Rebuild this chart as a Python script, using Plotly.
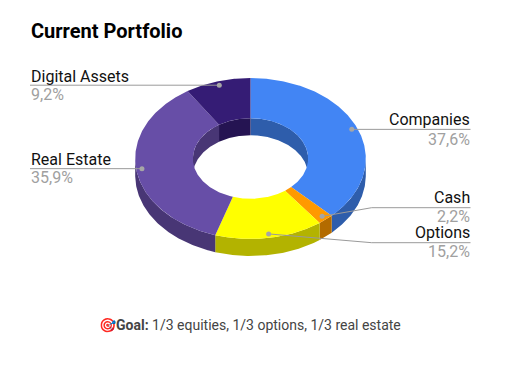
import math
import plotly.graph_objects as go

labels = ["Companies", "Cash", "Options", "Real Estate", "Digital Assets"]
values = [37.6, 2.2, 15.2, 35.9, 9.2]
face_colors = ["#4285F4", "#FF9900", "#FFFF00", "#674EA7", "#351C75"]
side_colors = ["#2E5DAB", "#B36B00", "#B3B300", "#483675", "#251452"]
title_text = "Current Portfolio"
goal_text = "🎯<b>Goal:</b> 1/3 equities, 1/3 options, 1/3 real estate"

W, H = 511, 370
CX, CY, RX, RY, DEPTH, HOLE = 250.5, 158.5, 115.3, 80.5, 17.0, 0.5
total = sum(values)


def pt(deg, f=1.0, dy=0.0):
    a = math.radians(deg)
    return CX + f * RX * math.sin(a), CY - f * RY * math.cos(a) + dy


def arc(a0, a1, f=1.0, dy=0.0):
    n = max(2, int(abs(a1 - a0) * 1.5))
    return [pt(a0 + (a1 - a0) * i / n, f, dy) for i in range(n + 1)]


def poly(points, color):
    xs = [p[0] for p in points] + [points[0][0]]
    ys = [p[1] for p in points] + [points[0][1]]
    return go.Scatter(x=xs, y=ys, mode="lines", fill="toself", fillcolor=color,
                      line=dict(width=0, color=color), hoverinfo="skip", showlegend=False)


spans = []
acc = 0.0
for v in values:
    spans.append((acc / total * 360, (acc + v) / total * 360))
    acc += v

fig = go.Figure()

# inner wall: the far half of the hole
for (a0, a1), col in zip(spans, side_colors):
    for lo, hi in ((a0, min(a1, 90)), (max(a0, 270), a1)):
        if hi > lo:
            fig.add_trace(poly(arc(lo, hi, HOLE) + arc(hi, lo, HOLE, DEPTH), col))

# outer wall: the near half of the ring
for (a0, a1), col in zip(spans, side_colors):
    lo, hi = max(a0, 90), min(a1, 270)
    if hi > lo:
        fig.add_trace(poly(arc(lo, hi) + arc(hi, lo, 1.0, DEPTH), col))

# top face
for (a0, a1), col in zip(spans, face_colors):
    fig.add_trace(poly(arc(a0, a1) + arc(a1, a0, HOLE), col))

# leader lines + dots + labels
LINE = "#9a9a9a"
label_layout = {
    "Companies": dict(side="r", knee=None, name_y=119, pct_y=139),
    "Cash": dict(side="r", knee=(371.7, 207.7), name_y=197, pct_y=216),
    "Options": dict(side="r", knee=(371.7, 242.7), name_y=232, pct_y=251),
    "Real Estate": dict(side="l", knee=None, name_y=159, pct_y=177),
    "Digital Assets": dict(side="l", knee=None, name_y=76, pct_y=94),
}
annotations = []
for name, v, (a0, a1) in zip(labels, values, spans):
    L = label_layout[name]
    x0, y0 = pt((a0 + a1) / 2, 0.95)
    end_x = 470.5 if L["side"] == "r" else 30
    if L["knee"]:
        xs, ys = [x0, L["knee"][0], end_x], [y0, L["knee"][1], L["knee"][1]]
    else:
        xs, ys = [x0, end_x], [y0, y0]
    fig.add_trace(go.Scatter(x=xs, y=ys, mode="lines", line=dict(color=LINE, width=1),
                             hoverinfo="skip", showlegend=False))
    fig.add_trace(go.Scatter(x=[x0], y=[y0], mode="markers",
                             marker=dict(color="#a6a6a6", size=5), hoverinfo="skip", showlegend=False))
    anchor = "right" if L["side"] == "r" else "left"
    tx = 472 if L["side"] == "r" else 29
    annotations.append(dict(x=tx, y=L["name_y"], text=name, xanchor=anchor, yanchor="middle",
                            showarrow=False,
                            font=dict(family="Roboto", size=16, color="#111111")))
    annotations.append(dict(x=tx, y=L["pct_y"], text=f"{v:.1f}".replace(".", ",") + "%",
                            xanchor=anchor, yanchor="middle", showarrow=False,
                            font=dict(family="Roboto", size=16, color="#a0a0a0")))

annotations.append(dict(x=29, y=31, text=f"<b>{title_text}</b>", xanchor="left", yanchor="middle",
                        showarrow=False, font=dict(family="Roboto", size=20, color="#000000")))
annotations.append(dict(x=250, y=325, text=goal_text, xanchor="center", yanchor="middle",
                        showarrow=False, font=dict(family="Roboto", size=14, color="#444444")))

fig.update_layout(
    width=W, height=H, margin=dict(l=0, r=0, t=0, b=0),
    paper_bgcolor="white", plot_bgcolor="white", showlegend=False,
    xaxis=dict(range=[0, W], visible=False, fixedrange=True),
    yaxis=dict(range=[H, 0], visible=False, fixedrange=True),
    annotations=annotations,
)
fig.write_html("out.html", config=dict(displayModeBar=False),
               post_script="document.body.style.margin='0';document.documentElement.style.overflow='hidden';")
